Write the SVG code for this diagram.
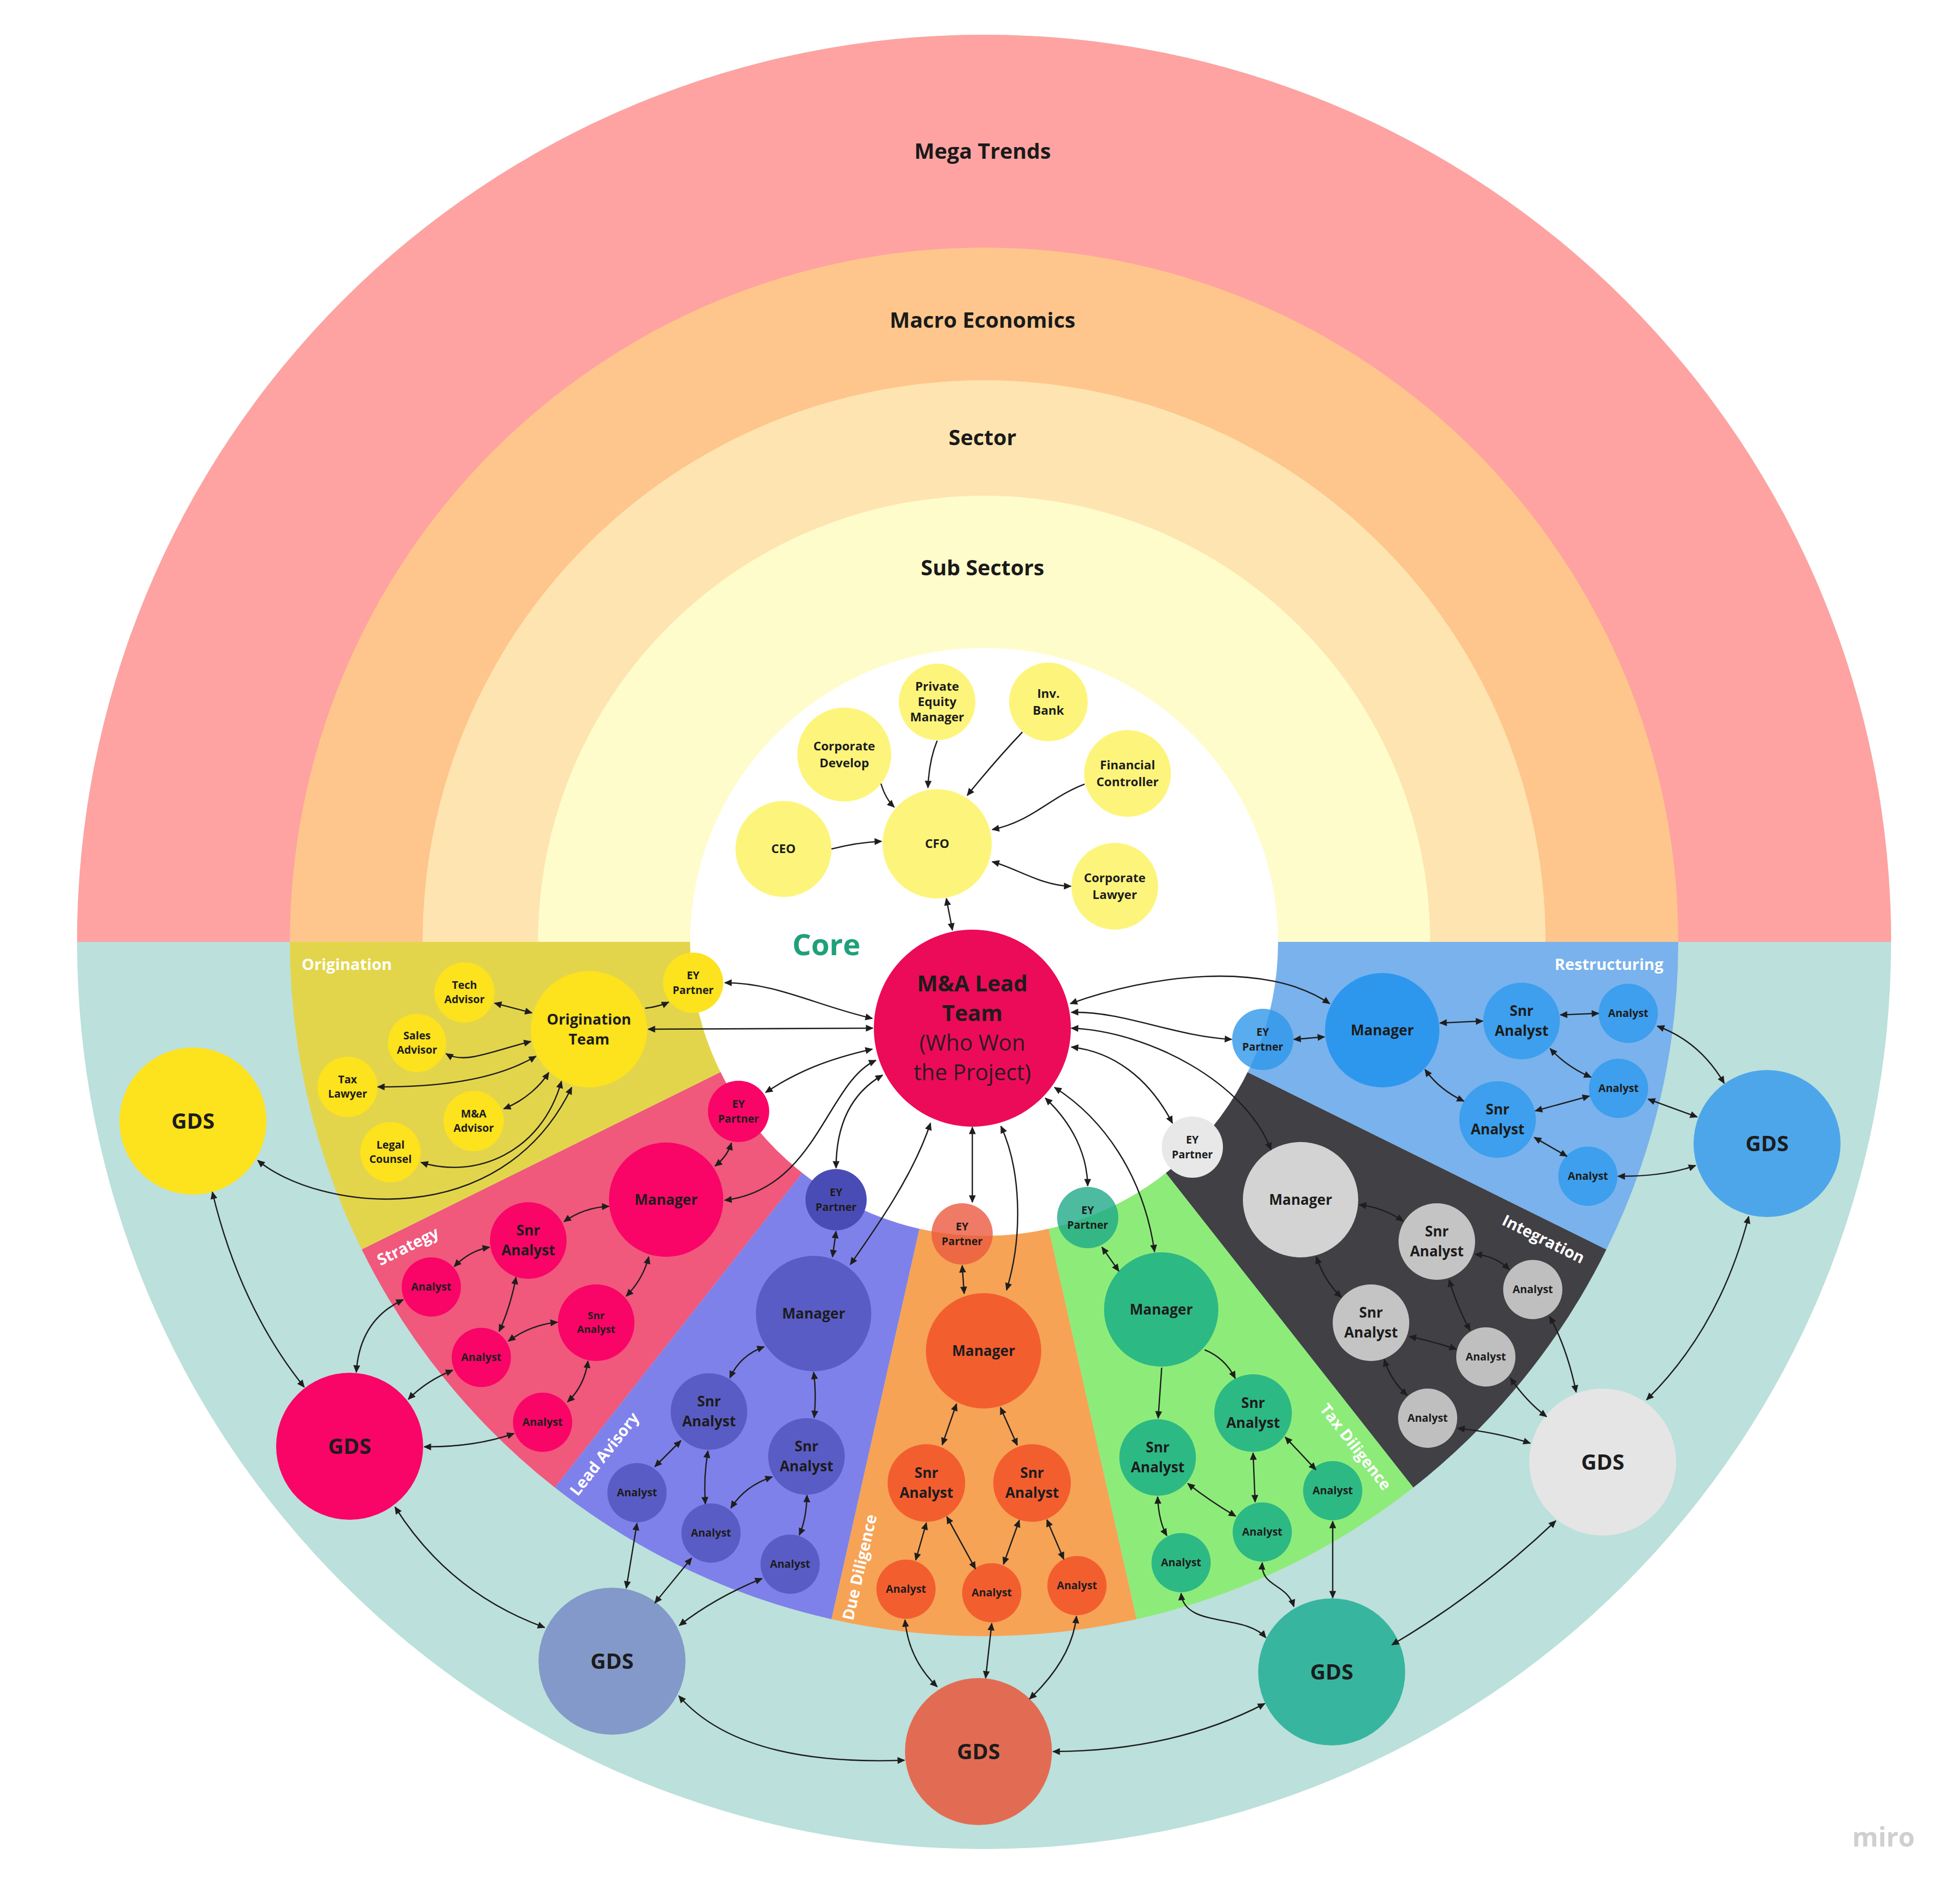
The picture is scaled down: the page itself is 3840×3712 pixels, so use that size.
<svg xmlns="http://www.w3.org/2000/svg" width="3840" height="3712" viewBox="0 0 3840 3712">
<style>
text{font-family:"Open Sans","Liberation Sans",Arial,sans-serif;font-weight:700}
.n text{text-anchor:middle;fill:#1c1c1c}
.f20{font-size:20px}.f21{font-size:21px}.f24{font-size:24px}.f28{font-size:28px}.f29{font-size:29px}.f42{font-size:42px}.f43{font-size:43px}
.band{font-size:42px;text-anchor:middle;fill:#1a1a1a}
.lbl{font-size:31px;fill:#ffffff;text-anchor:middle}
.c{fill:none;stroke:#1e1e1e;stroke-width:2.6;marker-start:url(#ah);marker-end:url(#ah)}
.e{fill:none;stroke:#1e1e1e;stroke-width:2.6;marker-end:url(#ah)}
.cy{fill:#fdf57b}.yo{fill:#fde21e}.st{fill:#f90467}.ld{fill:#5a5cc5}.dd{fill:#f35e2f}.tx{fill:#2db984}.rs{fill:#3d9fed}
</style>
<defs>
<marker id="ah" viewBox="0 0 10 10" refX="9" refY="5" markerWidth="19" markerHeight="15" markerUnits="userSpaceOnUse" orient="auto-start-reverse">
<path d="M0,0.5 L10,5 L0,9.5 z" fill="#1e1e1e"/>
</marker>
</defs>
<rect x="0" y="0" width="3840" height="3712" fill="#ffffff"/>
<g id="background">
<circle cx="1928" cy="1845" r="1777" fill="#bce0db"/>
<path d="M151 1845 A1777 1777 0 0 1 3705 1845 Z" fill="#fea3a1"/>
<path d="M568 1845 A1360 1360 0 0 1 3288 1845 Z" fill="#fec68c"/>
<path d="M828 1845 A1100 1100 0 0 1 3028 1845 Z" fill="#fee4b0"/>
<path d="M1054 1845 A874 874 0 0 1 2802 1845 Z" fill="#fefcca"/>
<path id="w-origination" d="M1928 1845 L568 1845 A1360 1360 0 0 0 708.8 2447.6 Z" fill="#e3d54b"/>
<path id="w-strategy" d="M1928 1845 L708.8 2447.6 A1360 1360 0 0 0 1087 2913.8 Z" fill="#f0587c"/>
<path id="w-lead" d="M1928 1845 L1087 2913.8 A1360 1360 0 0 0 1629.1 3171.7 Z" fill="#7f81ea"/>
<path id="w-dd" d="M1928 1845 L1629.1 3171.7 A1360 1360 0 0 0 2226.9 3171.7 Z" fill="#f6a356"/>
<path id="w-tax" d="M1928 1845 L2226.9 3171.7 A1360 1360 0 0 0 2769 2913.8 Z" fill="#8dec79"/>
<path id="w-int" d="M1928 1845 L2769 2913.8 A1360 1360 0 0 0 3147.2 2447.6 Z" fill="#414045"/>
<path id="w-rest" d="M1928 1845 L3147.2 2447.6 A1360 1360 0 0 0 3288 1845 Z" fill="#79b2ec"/>
<circle cx="1928" cy="1845" r="576" fill="#ffffff"/>
</g>
<g id="labels">
<text class="band" x="1925" y="311">Mega Trends</text>
<text class="band" x="1925" y="642">Macro Economics</text>
<text class="band" x="1925" y="872">Sector</text>
<text class="band" x="1925" y="1127">Sub Sectors</text>
<text x="1619" y="1871" font-size="58" fill="#1fa07a" text-anchor="middle">Core</text>
<text class="lbl" x="591" y="1900" style="text-anchor:start">Origination</text>
<text class="lbl" x="3259" y="1900" style="text-anchor:end">Restructuring</text>
<text class="lbl" transform="translate(799 2441) rotate(-26.3)" y="11">Strategy</text>
<text class="lbl" transform="translate(1184 2848) rotate(-51.8)" y="11">Lead Avisory</text>
<text class="lbl" transform="translate(1684 3070) rotate(-77.3)" y="11">Due Diligence</text>
<text class="lbl" transform="translate(2656 2834) rotate(52)" y="11">Tax Diligence</text>
<text class="lbl" transform="translate(3024 2427) rotate(26.3)" y="11">Integration</text>
<text x="3690" y="3617" font-size="52" fill="#cfcfcf" text-anchor="middle">miro</text>
</g>
<g id="nodes">
<g id="ceo" class="n"><circle class="cy" cx="1535" cy="1663" r="94"/><text class="f24" x="1535" y="1671">CEO</text></g>
<g id="cfo" class="n"><circle class="cy" cx="1836" cy="1653" r="107"/><text class="f24" x="1836" y="1661">CFO</text></g>
<g id="corp-develop" class="n"><circle class="cy" cx="1654" cy="1478" r="92"/><text class="f24"><tspan x="1654" y="1470">Corporate</tspan><tspan x="1654" y="1503">Develop</tspan></text></g>
<g id="pe-manager" class="n"><circle class="cy" cx="1836" cy="1375" r="75"/><text class="f24"><tspan x="1836" y="1353">Private</tspan><tspan x="1836" y="1383">Equity</tspan><tspan x="1836" y="1413">Manager</tspan></text></g>
<g id="inv-bank" class="n"><circle class="cy" cx="2054" cy="1375" r="77"/><text class="f24"><tspan x="2054" y="1367">Inv.</tspan><tspan x="2054" y="1400">Bank</tspan></text></g>
<g id="fin-controller" class="n"><circle class="cy" cx="2209" cy="1515" r="85"/><text class="f24"><tspan x="2209" y="1507">Financial</tspan><tspan x="2209" y="1540">Controller</tspan></text></g>
<g id="corp-lawyer" class="n"><circle class="cy" cx="2184" cy="1736" r="85"/><text class="f24"><tspan x="2184" y="1728">Corporate</tspan><tspan x="2184" y="1761">Lawyer</tspan></text></g>
<g id="ma-lead" class="n"><circle cx="1905" cy="2014" r="193" fill="#ec0b58"/><text class="f43"><tspan x="1905" y="1942">M&amp;A Lead</tspan><tspan x="1905" y="2000">Team</tspan><tspan x="1905" y="2058" font-weight="400" fill="#2a1a20">(Who Won</tspan><tspan x="1905" y="2116" font-weight="400" fill="#2a1a20">the Project)</tspan></text></g>

<g id="orig-ey" class="n"><circle class="yo" cx="1358" cy="1925" r="59"/><text class="f21"><tspan x="1358" y="1918">EY</tspan><tspan x="1358" y="1947">Partner</tspan></text></g>
<g id="orig-team" class="n"><circle class="yo" cx="1154" cy="2016" r="114"/><text class="f29"><tspan x="1154" y="2007">Origination</tspan><tspan x="1154" y="2046">Team</tspan></text></g>
<g id="tech-advisor" class="n"><circle class="yo" cx="910" cy="1944" r="59"/><text class="f21"><tspan x="910" y="1937">Tech</tspan><tspan x="910" y="1965">Advisor</tspan></text></g>
<g id="sales-advisor" class="n"><circle class="yo" cx="817" cy="2043" r="57"/><text class="f21"><tspan x="817" y="2036">Sales</tspan><tspan x="817" y="2064">Advisor</tspan></text></g>
<g id="tax-lawyer" class="n"><circle class="yo" cx="681" cy="2129" r="59"/><text class="f21"><tspan x="681" y="2122">Tax</tspan><tspan x="681" y="2150">Lawyer</tspan></text></g>
<g id="ma-advisor" class="n"><circle class="yo" cx="928" cy="2196" r="59"/><text class="f21"><tspan x="928" y="2189">M&amp;A</tspan><tspan x="928" y="2217">Advisor</tspan></text></g>
<g id="legal-counsel" class="n"><circle class="yo" cx="765" cy="2257" r="59"/><text class="f21"><tspan x="765" y="2250">Legal</tspan><tspan x="765" y="2278">Counsel</tspan></text></g>
<g id="gds-orig" class="n"><circle class="yo" cx="378" cy="2196" r="144"/><text class="f42" x="378" y="2211">GDS</text></g>

<g id="str-ey" class="n"><circle class="st" cx="1447" cy="2177" r="60"/><text class="f21"><tspan x="1447" y="2170">EY</tspan><tspan x="1447" y="2199">Partner</tspan></text></g>
<g id="str-mgr" class="n"><circle class="st" cx="1305" cy="2350" r="112"/><text class="f28" x="1305" y="2360">Manager</text></g>
<g id="str-snr1" class="n"><circle class="st" cx="1035" cy="2430" r="75"/><text class="f28"><tspan x="1035" y="2420">Snr</tspan><tspan x="1035" y="2459">Analyst</tspan></text></g>
<g id="str-an1" class="n"><circle class="st" cx="845" cy="2521" r="58"/><text class="f21" x="845" y="2528">Analyst</text></g>
<g id="str-snr2" class="n"><circle class="st" cx="1168" cy="2591" r="75"/><text class="f20"><tspan x="1168" y="2584">Snr</tspan><tspan x="1168" y="2611">Analyst</tspan></text></g>
<g id="str-an2" class="n"><circle class="st" cx="943" cy="2659" r="58"/><text class="f21" x="943" y="2666">Analyst</text></g>
<g id="str-an3" class="n"><circle class="st" cx="1063" cy="2786" r="58"/><text class="f21" x="1063" y="2793">Analyst</text></g>
<g id="gds-str" class="n"><circle class="st" cx="685" cy="2833" r="144"/><text class="f42" x="685" y="2848">GDS</text></g>

<g id="lead-ey" class="n"><circle cx="1638" cy="2350" r="60" fill="#4a4cb5"/><text class="f21"><tspan x="1638" y="2343">EY</tspan><tspan x="1638" y="2372">Partner</tspan></text></g>
<g id="lead-mgr" class="n"><circle class="ld" cx="1594" cy="2573" r="113"/><text class="f28" x="1594" y="2583">Manager</text></g>
<g id="lead-snr1" class="n"><circle class="ld" cx="1389" cy="2765" r="75"/><text class="f28"><tspan x="1389" y="2755">Snr</tspan><tspan x="1389" y="2794">Analyst</tspan></text></g>
<g id="lead-snr2" class="n"><circle class="ld" cx="1580" cy="2853" r="75"/><text class="f28"><tspan x="1580" y="2843">Snr</tspan><tspan x="1580" y="2882">Analyst</tspan></text></g>
<g id="lead-an1" class="n"><circle class="ld" cx="1248" cy="2924" r="58"/><text class="f21" x="1248" y="2931">Analyst</text></g>
<g id="lead-an2" class="n"><circle class="ld" cx="1393" cy="3003" r="58"/><text class="f21" x="1393" y="3010">Analyst</text></g>
<g id="lead-an3" class="n"><circle class="ld" cx="1548" cy="3064" r="58"/><text class="f21" x="1548" y="3071">Analyst</text></g>
<g id="gds-lead" class="n"><circle cx="1199" cy="3254" r="144" fill="#8399c9"/><text class="f42" x="1199" y="3269">GDS</text></g>

<g id="dd-ey" class="n"><circle cx="1885" cy="2417" r="60" fill="#eb5a40" fill-opacity="0.8"/><text class="f21"><tspan x="1885" y="2410">EY</tspan><tspan x="1885" y="2439">Partner</tspan></text></g>
<g id="dd-mgr" class="n"><circle class="dd" cx="1927" cy="2646" r="113"/><text class="f28" x="1927" y="2656">Manager</text></g>
<g id="dd-snr1" class="n"><circle class="dd" cx="1815" cy="2905" r="76"/><text class="f28"><tspan x="1815" y="2895">Snr</tspan><tspan x="1815" y="2934">Analyst</tspan></text></g>
<g id="dd-snr2" class="n"><circle class="dd" cx="2022" cy="2905" r="76"/><text class="f28"><tspan x="2022" y="2895">Snr</tspan><tspan x="2022" y="2934">Analyst</tspan></text></g>
<g id="dd-an1" class="n"><circle class="dd" cx="1775" cy="3113" r="58"/><text class="f21" x="1775" y="3120">Analyst</text></g>
<g id="dd-an2" class="n"><circle class="dd" cx="1943" cy="3120" r="58"/><text class="f21" x="1943" y="3127">Analyst</text></g>
<g id="dd-an3" class="n"><circle class="dd" cx="2110" cy="3106" r="58"/><text class="f21" x="2110" y="3113">Analyst</text></g>
<g id="gds-dd" class="n"><circle cx="1917" cy="3431" r="144" fill="#e26c53"/><text class="f42" x="1917" y="3446">GDS</text></g>

<g id="tax-ey" class="n"><circle cx="2131" cy="2385" r="60" fill="#1faa88" fill-opacity="0.8"/><text class="f21"><tspan x="2131" y="2378">EY</tspan><tspan x="2131" y="2407">Partner</tspan></text></g>
<g id="tax-mgr" class="n"><circle class="tx" cx="2275" cy="2565" r="112"/><text class="f28" x="2275" y="2575">Manager</text></g>
<g id="tax-snr1" class="n"><circle class="tx" cx="2455" cy="2768" r="76"/><text class="f28"><tspan x="2455" y="2758">Snr</tspan><tspan x="2455" y="2797">Analyst</tspan></text></g>
<g id="tax-snr2" class="n"><circle class="tx" cx="2268" cy="2855" r="75"/><text class="f28"><tspan x="2268" y="2845">Snr</tspan><tspan x="2268" y="2884">Analyst</tspan></text></g>
<g id="tax-an-r" class="n"><circle class="tx" cx="2611" cy="2920" r="58"/><text class="f21" x="2611" y="2927">Analyst</text></g>
<g id="tax-an-m" class="n"><circle class="tx" cx="2473" cy="3001" r="58"/><text class="f21" x="2473" y="3008">Analyst</text></g>
<g id="tax-an-l" class="n"><circle class="tx" cx="2314" cy="3061" r="58"/><text class="f21" x="2314" y="3068">Analyst</text></g>
<g id="gds-tax" class="n"><circle cx="2609" cy="3275" r="144" fill="#37b59f"/><text class="f42" x="2609" y="3290">GDS</text></g>

<g id="int-ey" class="n"><circle cx="2336" cy="2247" r="60" fill="#e8e8e8"/><text class="f21"><tspan x="2336" y="2240">EY</tspan><tspan x="2336" y="2269">Partner</tspan></text></g>
<g id="int-mgr" class="n"><circle cx="2548" cy="2350" r="113" fill="#d3d3d3"/><text class="f28" x="2548" y="2360">Manager</text></g>
<g id="int-snr1" class="n"><circle cx="2815" cy="2432" r="75" fill="#c4c4c4"/><text class="f28"><tspan x="2815" y="2422">Snr</tspan><tspan x="2815" y="2461">Analyst</tspan></text></g>
<g id="int-snr2" class="n"><circle cx="2686" cy="2591" r="75" fill="#c4c4c4"/><text class="f28"><tspan x="2686" y="2581">Snr</tspan><tspan x="2686" y="2620">Analyst</tspan></text></g>
<g id="int-an-a" class="n"><circle cx="3003" cy="2526" r="58" fill="#bfbfbf"/><text class="f21" x="3003" y="2533">Analyst</text></g>
<g id="int-an-b" class="n"><circle cx="2911" cy="2658" r="58" fill="#bfbfbf"/><text class="f21" x="2911" y="2665">Analyst</text></g>
<g id="int-an-c" class="n"><circle cx="2797" cy="2778" r="58" fill="#bfbfbf"/><text class="f21" x="2797" y="2785">Analyst</text></g>
<g id="gds-int" class="n"><circle cx="3140" cy="2864" r="144" fill="#e5e5e5"/><text class="f42" x="3140" y="2879">GDS</text></g>

<g id="rest-ey" class="n"><circle cx="2474" cy="2036" r="60" fill="#2f97ea" fill-opacity="0.8"/><text class="f21"><tspan x="2474" y="2029">EY</tspan><tspan x="2474" y="2058">Partner</tspan></text></g>
<g id="rest-mgr" class="n"><circle cx="2708" cy="2018" r="112" fill="#2d97ee"/><text class="f28" x="2708" y="2028">Manager</text></g>
<g id="rest-snr1" class="n"><circle class="rs" cx="2981" cy="2000" r="75"/><text class="f28"><tspan x="2981" y="1990">Snr</tspan><tspan x="2981" y="2029">Analyst</tspan></text></g>
<g id="rest-snr2" class="n"><circle class="rs" cx="2934" cy="2193" r="75"/><text class="f28"><tspan x="2934" y="2183">Snr</tspan><tspan x="2934" y="2222">Analyst</tspan></text></g>
<g id="rest-an-t" class="n"><circle class="rs" cx="3190" cy="1985" r="58"/><text class="f21" x="3190" y="1992">Analyst</text></g>
<g id="rest-an-m" class="n"><circle class="rs" cx="3171" cy="2132" r="58"/><text class="f21" x="3171" y="2139">Analyst</text></g>
<g id="rest-an-b" class="n"><circle class="rs" cx="3111" cy="2304" r="58"/><text class="f21" x="3111" y="2311">Analyst</text></g>
<g id="gds-rest" class="n"><circle cx="3462" cy="2240" r="144" fill="#4ea6ea"/><text class="f42" x="3462" y="2255">GDS</text></g>
</g>

<g id="connectors">
<path class="e" d="M1629 1663 Q1680 1650 1727 1648"/>
<path class="e" d="M1726 1535 Q1735 1565 1752 1581"/>
<path class="e" d="M1836 1451 Q1820 1490 1818 1543"/>
<path class="e" d="M2003 1434 Q1950 1490 1895 1558"/>
<path class="e" d="M2125 1536 C2060 1560 2020 1610 1944 1625"/>
<path class="c" d="M1944 1688 C1990 1700 2040 1735 2098 1736"/>
<path class="c" d="M1854 1760 L1866 1822"/>

<path class="c" d="M1709 1995 C1600 1970 1520 1925 1420 1925"/>
<path class="c" d="M1710 2014 L1270 2016"/>
<path class="c" d="M1709 2055 C1620 2075 1560 2100 1500 2140"/>
<path class="c" d="M1716 2077 C1620 2120 1600 2330 1420 2351"/>
<path class="c" d="M1729 2106 C1670 2140 1638 2200 1638 2288"/>
<path class="c" d="M1823 2200 C1790 2300 1720 2400 1666 2477"/>
<path class="c" d="M1905 2208 L1905 2355"/>
<path class="c" d="M1961 2206 C2000 2290 2005 2420 1972 2527"/>
<path class="c" d="M2048 2151 C2100 2200 2130 2260 2131 2323"/>
<path class="c" d="M2066 2130 C2160 2190 2240 2300 2262 2452"/>
<path class="c" d="M2099 2051 C2180 2060 2250 2110 2297 2200"/>
<path class="c" d="M2099 2014 C2250 2020 2440 2120 2490 2252"/>
<path class="c" d="M2099 1983 C2200 1980 2300 2030 2413 2036"/>
<path class="c" d="M2097 1966 C2250 1910 2480 1880 2605 1966"/>

<path class="e" d="M1264 1975 Q1290 1972 1310 1963"/>
<path class="c" d="M969 1965 L1042 1984"/>
<path class="c" d="M874 2064 C910 2085 960 2060 1040 2040"/>
<path class="c" d="M740 2129 C880 2130 980 2110 1050 2069"/>
<path class="c" d="M987 2172 C1030 2155 1060 2125 1075 2101"/>
<path class="c" d="M825 2277 C930 2310 1060 2260 1100 2118"/>
<path class="c" d="M505 2273 C620 2370 980 2420 1120 2130"/>

<path class="c" d="M1433 2239 Q1425 2265 1401 2284"/>
<path class="c" d="M1193 2363 Q1145 2365 1105 2393"/>
<path class="c" d="M959 2443 Q920 2450 890 2481"/>
<path class="c" d="M1011 2502 Q1000 2560 978 2608"/>
<path class="c" d="M1271 2462 Q1260 2505 1227 2539"/>
<path class="c" d="M1092 2590 Q1040 2595 996 2627"/>
<path class="c" d="M1152 2666 Q1145 2715 1112 2746"/>
<path class="c" d="M790 2546 Q705 2585 698 2688"/>
<path class="c" d="M887 2684 Q835 2705 800 2741"/>
<path class="c" d="M1007 2808 Q930 2835 831 2834"/>
<path class="c" d="M416 2335 Q470 2560 596 2717"/>
<path class="c" d="M774 2952 Q880 3120 1067 3188"/>

<path class="c" d="M1638 2412 L1631 2462"/>
<path class="c" d="M1497 2638 Q1450 2655 1430 2699"/>
<path class="c" d="M1594 2688 Q1600 2730 1595 2777"/>
<path class="c" d="M1334 2822 L1283 2873"/>
<path class="c" d="M1387 2842 Q1378 2895 1382 2946"/>
<path class="c" d="M1513 2893 Q1460 2910 1432 2954"/>
<path class="c" d="M1581 2929 Q1580 2975 1566 3007"/>
<path class="c" d="M1248 2984 L1227 3111"/>
<path class="c" d="M1355 3052 L1283 3140"/>
<path class="c" d="M1493 3092 Q1400 3130 1331 3184"/>
<path class="c" d="M1330 3322 Q1450 3460 1772 3448"/>

<path class="c" d="M1885 2479 L1889 2534"/>
<path class="c" d="M1874 2750 L1846 2830"/>
<path class="c" d="M1960 2757 L1993 2831"/>
<path class="c" d="M1815 2983 L1794 3056"/>
<path class="c" d="M1855 2971 L1911 3073"/>
<path class="c" d="M1997 2978 L1966 3064"/>
<path class="c" d="M2051 2977 L2084 3054"/>
<path class="c" d="M1773 3173 Q1780 3250 1836 3304"/>
<path class="c" d="M1943 3180 L1931 3287"/>
<path class="c" d="M2109 3166 Q2100 3250 2017 3328"/>
<path class="c" d="M2063 3431 Q2300 3430 2478 3337"/>

<path class="c" d="M2159 2443 L2192 2490"/>
<path class="e" d="M2276 2679 L2269 2778"/>
<path class="e" d="M2360 2644 Q2400 2660 2420 2700"/>
<path class="c" d="M2268 2932 Q2270 2980 2286 3008"/>
<path class="c" d="M2327 2906 Q2370 2940 2421 2970"/>
<path class="c" d="M2455 2846 L2459 2942"/>
<path class="c" d="M2518 2815 L2578 2879"/>
<path class="c" d="M2611 2980 L2611 3130"/>
<path class="c" d="M2473 3061 C2470 3110 2520 3100 2535 3147"/>
<path class="c" d="M2314 3121 C2320 3190 2440 3160 2480 3208"/>
<path class="c" d="M2727 3222 Q2900 3120 3048 2979"/>

<path class="c" d="M2663 2360 Q2710 2365 2749 2392"/>
<path class="c" d="M2579 2462 Q2595 2510 2628 2541"/>
<path class="c" d="M2890 2457 Q2930 2460 2957 2487"/>
<path class="c" d="M2839 2507 Q2855 2560 2880 2606"/>
<path class="c" d="M2761 2618 Q2810 2628 2853 2643"/>
<path class="c" d="M2712 2663 Q2725 2705 2757 2733"/>
<path class="c" d="M3036 2579 Q3070 2640 3088 2727"/>
<path class="c" d="M2959 2699 Q2990 2745 3030 2775"/>
<path class="c" d="M2856 2798 Q2930 2805 2998 2827"/>
<path class="c" d="M3226 2742 Q3370 2600 3426 2383"/>

<path class="c" d="M2535 2036 L2595 2031"/>
<path class="c" d="M2821 2004 L2905 2000"/>
<path class="c" d="M3057 1988 L3132 1985"/>
<path class="c" d="M2792 2095 Q2820 2135 2868 2157"/>
<path class="c" d="M3037 2054 Q3070 2090 3117 2110"/>
<path class="c" d="M3008 2176 L3114 2147"/>
<path class="c" d="M3006 2228 L3070 2265"/>
<path class="c" d="M3247 2010 Q3330 2040 3378 2122"/>
<path class="c" d="M3229 2153 L3325 2188"/>
<path class="c" d="M3170 2304 Q3260 2305 3322 2283"/>
</g>
</svg>
